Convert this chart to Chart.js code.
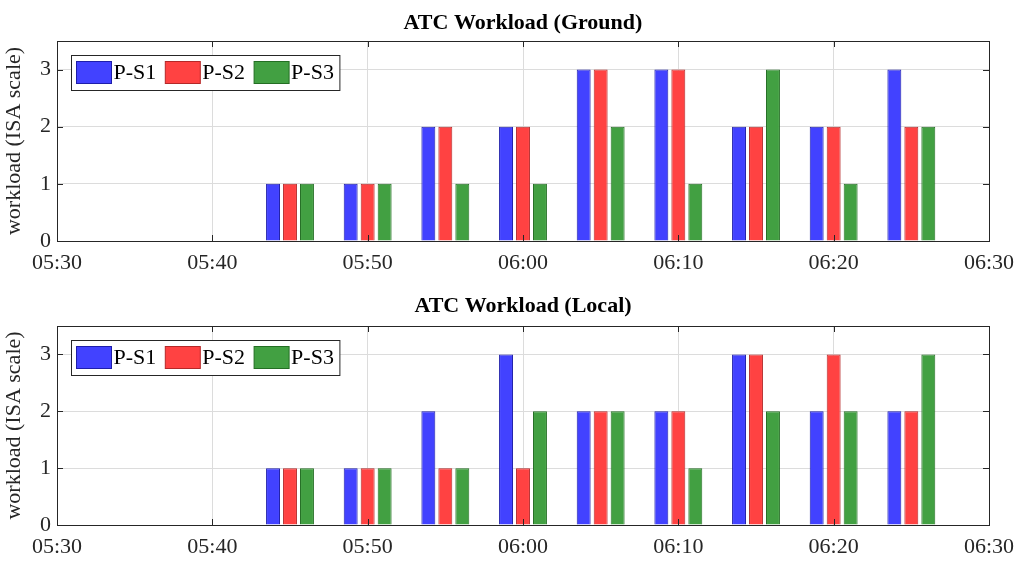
<!DOCTYPE html>
<html>
<head>
<meta charset="utf-8">
<script src="https://cdn.jsdelivr.net/npm/chart.js@4.4.1/dist/chart.umd.min.js"></script>
<style>
    body { margin: 0; background: #fff; }
    canvas { display: block; }
</style>
</head>
<body>
<canvas id="graficGround" width="1024" height="283"></canvas>
<canvas id="graficLocal" width="1024" height="278"></canvas>
<script>
// DADES (hores de cada grup de barres i valors ISA)
const hores = ['05:45', '05:50', '05:55', '06:00', '06:05', '06:10', '06:15', '06:20', '06:25'];
const etiquetesX = ['05:30', '05:40', '05:50', '06:00', '06:10', '06:20', '06:30'];
const etiquetesSeries = ['P-S1', 'P-S2', 'P-S3'];

const ps1Ground = [1, 1, 2, 2, 3, 3, 2, 2, 3];
const ps2Ground = [1, 1, 2, 2, 3, 3, 2, 2, 2];
const ps3Ground = [1, 1, 1, 1, 2, 1, 3, 1, 2];

const ps1Local = [1, 1, 2, 3, 2, 2, 3, 2, 2];
const ps2Local = [1, 1, 1, 1, 2, 2, 3, 3, 2];
const ps3Local = [1, 1, 1, 2, 2, 1, 2, 2, 3];

const colorsFons = ['rgb(66,66,255)', 'rgb(255,66,66)', 'rgb(66,160,66)'];
const colorsVora = ['rgb(30,30,170)', 'rgb(180,40,40)', 'rgb(35,110,35)'];

const FONT = "'Liberation Serif', 'Times New Roman', serif";
const GRIS = '#262626';

// minuts des de les 05:30
function aMinuts(t) {
    const [h, m] = t.split(':').map(Number);
    return h * 60 + m - (5 * 60 + 30);
}

// Títol centrat sobre l'àrea, marc, marques cap endins i llegenda amb vora (estil MATLAB)
const pluginMarc = {
    id: 'marc',
    afterDraw(chart, args, opts) {
        const { ctx, chartArea: a, scales } = chart;
        ctx.save();

        ctx.fillStyle = '#000';
        ctx.font = 'bold 22px ' + FONT;
        ctx.textAlign = 'center';
        ctx.textBaseline = 'middle';
        ctx.fillText(opts.titol, (a.left + a.right) / 2, 23);
        ctx.textAlign = 'left';

        ctx.strokeStyle = GRIS;
        ctx.lineWidth = 1;
        ctx.strokeRect(Math.round(a.left) + 0.5, Math.round(a.top) + 0.5, Math.round(a.right - a.left), Math.round(a.bottom - a.top));

        ctx.beginPath();
        scales.x.ticks.forEach(t => {
            const x = Math.round(scales.x.getPixelForValue(t.value)) + 0.5;
            ctx.moveTo(x, a.top); ctx.lineTo(x, a.top + 6);
            ctx.moveTo(x, a.bottom); ctx.lineTo(x, a.bottom - 6);
        });
        scales.y.ticks.forEach(t => {
            const y = Math.round(scales.y.getPixelForValue(t.value)) + 0.5;
            ctx.moveTo(a.left, y); ctx.lineTo(a.left + 6, y);
            ctx.moveTo(a.right, y); ctx.lineTo(a.right - 6, y);
        });
        ctx.stroke();

        // llegenda
        const lx = Math.round(a.left) + 14.5, ly = Math.round(a.top) + 14.5;
        ctx.font = '22px ' + FONT;
        let cursor = lx + 5;
        const items = chart.data.datasets.map(ds => {
            const w = ctx.measureText(ds.label).width;
            const it = { x: cursor, w: w, ds: ds };
            cursor += 35 + 2 + w + 9;
            return it;
        });
        const amplada = cursor - 9 + 6 - lx;
        ctx.fillStyle = '#fff';
        ctx.fillRect(lx, ly, amplada, 35);
        ctx.strokeStyle = GRIS;
        ctx.strokeRect(lx, ly, amplada, 35);
        items.forEach(it => {
            ctx.fillStyle = it.ds.backgroundColor;
            ctx.fillRect(it.x, ly + 6, 35, 22);
            ctx.strokeStyle = it.ds.borderColor;
            ctx.strokeRect(it.x, ly + 6, 35, 22);
            ctx.fillStyle = '#000';
            ctx.textBaseline = 'middle';
            ctx.fillText(it.ds.label, it.x + 37, ly + 18);
        });
        ctx.restore();
    }
};

function crearGrafic(id, titol, series, altX, dalt) {
    const datasets = series.map((valors, i) => ({
        label: etiquetesSeries[i],
        data: hores.map((h, j) => ({ x: aMinuts(h), y: valors[j] })),
        backgroundColor: colorsFons[i],
        borderColor: colorsVora[i],
        borderWidth: 1,
        categoryPercentage: 0.656,
        barPercentage: 0.82
    }));

    new Chart(document.getElementById(id), {
        type: 'bar',
        data: { datasets: datasets },
        options: {
            responsive: false,
            animation: false,
            layout: { padding: { left: 0, right: 35, top: dalt, bottom: 0 } },
            plugins: {
                legend: { display: false },
                tooltip: { enabled: false },
                title: { display: false },
                marc: { titol: titol }
            },
            scales: {
                x: {
                    type: 'linear', min: 0, max: 60, offset: false,
                    grid: { color: '#dcdcdc', offset: false, drawTicks: false },
                    border: { display: false },
                    ticks: {
                        stepSize: 10, color: GRIS, padding: 9, maxRotation: 0,
                        font: { family: FONT, size: 22 },
                        callback: (v, i) => etiquetesX[i]
                    },
                    afterFit: s => { s.height = altX; }
                },
                y: {
                    min: 0, max: 3.5,
                    grid: { color: '#dcdcdc', drawTicks: false },
                    border: { display: false },
                    ticks: { stepSize: 1, color: GRIS, padding: 6, font: { family: FONT, size: 22 } },
                    afterBuildTicks: s => { s.ticks = s.ticks.filter(t => Number.isInteger(t.value)); },
                    title: {
                        display: true, text: 'workload (ISA scale)', color: GRIS,
                        font: { family: FONT, size: 22 }, padding: { top: 1, bottom: 0 }
                    },
                    afterFit: s => { s.width = 57; }
                }
            }
        },
        plugins: [pluginMarc]
    });
}

crearGrafic('graficGround', 'ATC Workload (Ground)', [ps1Ground, ps2Ground, ps3Ground], 42, 41);
crearGrafic('graficLocal', 'ATC Workload (Local)', [ps1Local, ps2Local, ps3Local], 36, 43);
</script>
</body>
</html>
